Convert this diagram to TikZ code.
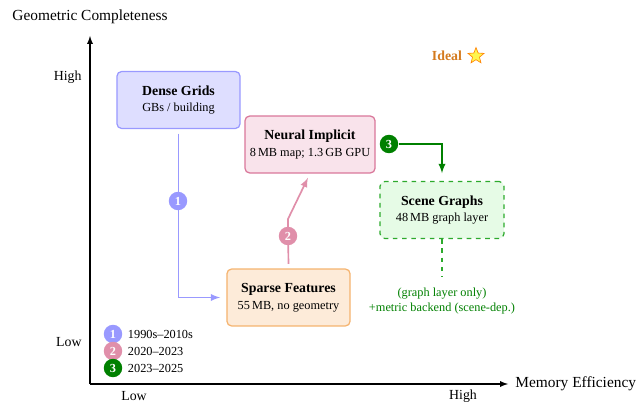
\documentclass[tikz,border=0pt]{standalone}
\usepackage{fontspec}
\setmainfont{Liberation Serif}
\usepackage{tikz}
\usetikzlibrary{calc,arrows,shapes.geometric}
\definecolor{denseline}{HTML}{9999FF}
\definecolor{densefill}{HTML}{DEDEFF}
\definecolor{neuralline}{HTML}{D9779A}
\definecolor{neuralfill}{HTML}{F9E3EB}
\definecolor{sparseline}{HTML}{F5B36E}
\definecolor{sparsefill}{HTML}{FDEBD9}
\definecolor{sceneline}{HTML}{2DAA2D}
\definecolor{scenefill}{HTML}{E6FBE6}
\definecolor{eratwo}{HTML}{E08FAA}
\definecolor{erathree}{HTML}{008000}
\definecolor{idealc}{HTML}{D47A1E}
\begin{document}
\begin{tikzpicture}[x=0.65pt,y=-0.65pt,
  box/.style={draw,rounded corners=3pt,thick,align=center,minimum height=37pt,inner sep=2pt},
  era/.style={circle,inner sep=0pt,minimum size=12pt,text=white,font=\footnotesize\bfseries},
  link/.style={-latex,line width=1.1pt}]
              \useasboundingbox (0,0) rectangle (642,402);
              % axes
              \coordinate (o) at (90,384);
              \draw[-latex,thick] (o) -- (90,36);
              \draw[-latex,thick] (o) -- (508,384);
              \node (ylab) at (90,17) {Geometric Completeness};
              \node[anchor=west] (xlab) at (510,384) {Memory Efficiency};
              \node[anchor=east,font=\small] (yhi) at (87,77) {High};
              \node[anchor=east,font=\small] (ylo) at (87,342) {Low};
              \node[font=\small] (xlo) at (134,396) {Low};
              \node[font=\small] (xhi) at (463,396) {High};
              % boxes
              \node[box,draw=denseline,fill=densefill,minimum width=80pt] (dg) at (178.5,100)
                {{\small\bfseries Dense Grids}\\[-1pt]\footnotesize GBs / building};
              \node[box,draw=neuralline,fill=neuralfill,minimum width=84.5pt] (ni) at (310,144.5)
                {{\small\bfseries Neural Implicit}\\[-1pt]\footnotesize 8\,MB map; 1.3\,GB GPU};
              \node[box,draw=sceneline,fill=scenefill,dashed,minimum width=80.5pt] (sg) at (442,210)
                {{\small\bfseries Scene Graphs}\\[-1pt]\footnotesize 48\,MB graph layer};
              \node[box,draw=sparseline,fill=sparsefill,minimum width=80pt] (sf) at (288.5,297.5)
                {{\small\bfseries Sparse Features}\\[-1pt]\footnotesize 55\,MB, no geometry};
              \node[align=center,text=erathree,font=\footnotesize] (note) at (442,301)
                {(graph layer only)\\+metric backend (scene-dep.)};
              % transitions
              \draw[link,denseline,shorten <=3pt,shorten >=4pt] (dg.south) |- (sf.west);
              \coordinate (k2) at (288,219);
              \draw[link,eratwo,shorten <=3pt,shorten >=3pt] (sf.north) -- (k2) -- (ni.south);
              \node[era,fill=denseline] (c1) at (178,201) {1};
              \node[era,fill=eratwo] (c2) at (288,236) {2};
              \node[era,fill=erathree] (c3) at (389,144) {3};
              \draw[link,erathree,shorten >=5pt] (c3) -| (sg.north);
              \draw[line width=1.1pt,dashed,sceneline,shorten >=4pt] (sg.south) -- (note.north);
              % ideal
              \node[text=idealc,font=\small\bfseries] (ideal) at (447,56) {Ideal};
              \node[star,star points=5,star point ratio=2.3,draw=orange,fill=yellow!70,
                    inner sep=0pt,minimum size=11pt] (st) at (476,56) {};
              % legend
              \node[era,fill=denseline] (l1) at (113,334) {1};
              \node[era,fill=eratwo] (l2) at (113,351) {2};
              \node[era,fill=erathree] (l3) at (113,368) {3};
              \node[anchor=west,font=\footnotesize] (t1) at (l1.east) {1990s--2010s};
              \node[anchor=west,font=\footnotesize] (t2) at (l2.east) {2020--2023};
              \node[anchor=west,font=\footnotesize] (t3) at (l3.east) {2023--2025};
            \end{tikzpicture}
\end{document}
